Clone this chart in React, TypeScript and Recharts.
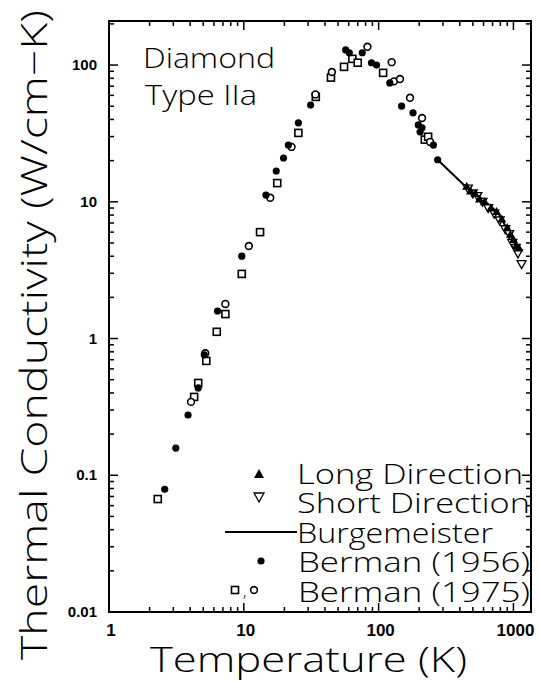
import React from "react";
import { ScatterChart, Scatter, XAxis, YAxis } from "recharts";

// ---- data (T in K, k in W/cm-K) ----
const berman1956 = [
  { T: 2.59, k: 0.079 }, { T: 3.13, k: 0.158 }, { T: 3.86, k: 0.276 }, { T: 4.59, k: 0.435 },
  { T: 5.09, k: 0.76 }, { T: 6.38, k: 1.59 }, { T: 9.66, k: 4.0 }, { T: 14.6, k: 11.2 },
  { T: 17.4, k: 16.8 }, { T: 19.7, k: 20.9 }, { T: 21.4, k: 26 }, { T: 25.4, k: 37.8 },
  { T: 31.3, k: 51 }, { T: 57, k: 129 }, { T: 60.6, k: 123 }, { T: 75.6, k: 123 },
  { T: 88.5, k: 104 }, { T: 96.6, k: 100 }, { T: 121, k: 74 }, { T: 148, k: 50 },
  { T: 180, k: 44.7 }, { T: 197, k: 36.5 }, { T: 210, k: 34.8 }, { T: 203, k: 32.4 },
  { T: 255, k: 26 }, { T: 274, k: 20.3 },
];
const berman1975Squares = [
  { T: 2.3, k: 0.067 }, { T: 4.28, k: 0.374 }, { T: 4.59, k: 0.473 }, { T: 5.27, k: 0.686 },
  { T: 6.3, k: 1.12 }, { T: 7.3, k: 1.51 }, { T: 9.66, k: 2.97 }, { T: 13.2, k: 6.0 },
  { T: 17.7, k: 13.7 }, { T: 25.4, k: 31.9 }, { T: 34.2, k: 58.5 }, { T: 44.3, k: 81 },
  { T: 55.4, k: 97 }, { T: 63.9, k: 111 }, { T: 70, k: 104 }, { T: 108, k: 87.7 },
  { T: 220, k: 28.5 }, { T: 233, k: 29.9 },
];
const berman1975Circles = [
  { T: 4.06, k: 0.344 }, { T: 5.18, k: 0.78 }, { T: 7.3, k: 1.79 }, { T: 10.9, k: 4.75 },
  { T: 15.7, k: 10.7 }, { T: 22.6, k: 25.2 }, { T: 34, k: 61 }, { T: 45, k: 89 },
  { T: 82.6, k: 136 }, { T: 125, k: 105 }, { T: 130, k: 76 }, { T: 144, k: 79 },
  { T: 171, k: 57.6 }, { T: 210, k: 41 }, { T: 241, k: 27.4 },
];
const longDirection = [
  { T: 450, k: 13 }, { T: 480, k: 12 }, { T: 520, k: 11.5 }, { T: 560, k: 10.5 },
  { T: 610, k: 10 }, { T: 680, k: 9 }, { T: 750, k: 8.5 }, { T: 820, k: 7.5 },
  { T: 900, k: 6.5 }, { T: 950, k: 5.8 }, { T: 1000, k: 5.3 }, { T: 1050, k: 4.8 },
  { T: 1100, k: 4.6 },
];
const shortDirection = [
  { T: 460, k: 12.5 }, { T: 500, k: 11.5 }, { T: 540, k: 11 }, { T: 590, k: 10 },
  { T: 650, k: 9 }, { T: 720, k: 8.2 }, { T: 790, k: 7.3 }, { T: 870, k: 6.3 },
  { T: 930, k: 5.8 }, { T: 980, k: 5.0 }, { T: 1040, k: 4.6 }, { T: 1080, k: 4.2 },
  { T: 1150, k: 3.5 },
];
const burgemeister = [
  { T: 274, k: 20.3 }, { T: 443, k: 12.9 }, { T: 600, k: 10.3 }, { T: 770, k: 8.3 },
  { T: 960, k: 5.6 }, { T: 1100, k: 4.5 },
];

const xMajor = [1, 10, 100, 1000];
const xMinor = [2, 3, 4, 5, 6, 7, 8, 9, 20, 30, 40, 50, 60, 70, 80, 90, 200, 300, 400, 500, 600, 700, 800, 900];
const yMajor = [0.01, 0.1, 1, 10, 100];
const yMinor = [
  0.02, 0.03, 0.04, 0.05, 0.06, 0.07, 0.08, 0.09,
  0.2, 0.3, 0.4, 0.5, 0.6, 0.7, 0.8, 0.9,
  2, 3, 4, 5, 6, 7, 8, 9,
  20, 30, 40, 50, 60, 70, 80, 90, 200,
];
const xLabels = ["1", "10", "100", "1000"];
const yLabels = ["0.01", "0.1", "1", "10", "100"];

const xTicks = [...xMajor, ...xMinor];
const yTicks = [...yMajor, ...yMinor];

// layout constants (plot frame)
const PLOT_TOP = 21;
const PLOT_RIGHT = 531;

const FONT = "'Open Sans', 'DejaVu Sans', sans-serif";
const TICKFONT = "'Liberation Sans', Arial, sans-serif";

const BottomTick = (p: any) => {
  const v = p.payload.value;
  const i = xMajor.indexOf(v);
  const major = i >= 0;
  const len = major ? 9 : 5;
  return (
    <g>
      <line x1={p.x} x2={p.x} y1={p.y} y2={p.y - len} stroke="#000" strokeWidth={1.5} />
      <line x1={p.x} x2={p.x} y1={PLOT_TOP} y2={PLOT_TOP + len} stroke="#000" strokeWidth={1.5} />
      {major && (
        <text x={p.x + 2} y={p.y + 24} textAnchor="middle" fontFamily={TICKFONT} fontWeight="bold" fontSize={17} fill="#000">
          {xLabels[i]}
        </text>
      )}
    </g>
  );
};
const LeftTick = (p: any) => {
  const v = p.payload.value;
  const i = yMajor.indexOf(v);
  const major = i >= 0;
  const len = major ? 9 : 5;
  return (
    <g>
      <line x1={p.x} x2={p.x + len} y1={p.y} y2={p.y} stroke="#000" strokeWidth={1.5} />
      <line x1={PLOT_RIGHT} x2={PLOT_RIGHT - len} y1={p.y} y2={p.y} stroke="#000" strokeWidth={1.5} />
      {major && (
        <text x={p.x - 12} y={p.y + 5} textAnchor="end" fontFamily={TICKFONT} fontWeight="bold" fontSize={15} fill="#000">
          {yLabels[i]}
        </text>
      )}
    </g>
  );
};

const FilledCircle = (p: any) => <circle cx={p.cx} cy={p.cy} r={3.6} fill="#000" />;
const OpenCircle = (p: any) => <circle cx={p.cx} cy={p.cy} r={3.4} fill="#fff" stroke="#000" strokeWidth={1.6} />;
const OpenSquare = (p: any) => <rect x={p.cx - 3.5} y={p.cy - 3.5} width={7} height={7} fill="#fff" stroke="#000" strokeWidth={1.6} />;
const UpTri = (p: any) => (
  <path d={`M${p.cx},${p.cy - 4.5} L${p.cx + 4.5},${p.cy + 3.5} L${p.cx - 4.5},${p.cy + 3.5} Z`} fill="#000" />
);
const DownTri = (p: any) => (
  <path d={`M${p.cx},${p.cy + 4.5} L${p.cx + 4.5},${p.cy - 3.5} L${p.cx - 4.5},${p.cy - 3.5} Z`} fill="#fff" stroke="#000" strokeWidth={1.3} />
);
const NoShape = () => <g />;

const txt = { fontFamily: FONT, fontWeight: 300, fill: "#000" } as const;

export default function App() {
  return (
    <div style={{ position: "absolute", left: 0, top: 0, background: "#fff" }}>
      <ScatterChart width={539} height={681} margin={{ top: 21, right: 8, bottom: 0, left: 0 }}>
        <XAxis
          dataKey="T"
          type="number"
          scale="log"
          domain={[1, 1350]}
          allowDataOverflow
          ticks={xTicks}
          interval={0}
          tickSize={0}
          tickMargin={0}
          tickLine={false}
          tick={BottomTick}
          height={69}
          axisLine={{ stroke: "#000", strokeWidth: 2 }}
        />
        <YAxis
          dataKey="k"
          type="number"
          scale="log"
          domain={[0.01, 210]}
          allowDataOverflow
          ticks={yTicks}
          interval={0}
          tickSize={0}
          tickMargin={0}
          tickLine={false}
          tick={LeftTick}
          width={109}
          axisLine={{ stroke: "#000", strokeWidth: 2 }}
        />
        <Scatter data={burgemeister} line={{ stroke: "#000", strokeWidth: 2 }} shape={NoShape} isAnimationActive={false} />
        <Scatter data={berman1975Squares} shape={OpenSquare} isAnimationActive={false} />
        <Scatter data={berman1975Circles} shape={OpenCircle} isAnimationActive={false} />
        <Scatter data={berman1956} shape={FilledCircle} isAnimationActive={false} />
        <Scatter data={shortDirection} shape={DownTri} isAnimationActive={false} />
        <Scatter data={longDirection} shape={UpTri} isAnimationActive={false} />

        <rect x={109} y={PLOT_TOP} width={PLOT_RIGHT - 109} height={591} fill="none" stroke="#000" strokeWidth={2} />

        <text x={143} y={68} fontSize={28} textLength={132} lengthAdjust="spacingAndGlyphs" {...txt}>Diamond</text>
        <text x={145} y={105} fontSize={28} textLength={112} lengthAdjust="spacingAndGlyphs" {...txt}>Type IIa</text>

        <path d="M259,469 L264,478 L254,478 Z" fill="#000" />
        <text x={297} y={484} fontSize={28} textLength={226} lengthAdjust="spacingAndGlyphs" {...txt}>Long Direction</text>
        <path d="M259,502 L264,493 L254,493 Z" fill="#fff" stroke="#000" strokeWidth={1.3} />
        <text x={297} y={513} fontSize={28} textLength={233} lengthAdjust="spacingAndGlyphs" {...txt}>Short Direction</text>
        <line x1={225} x2={297} y1={532} y2={532} stroke="#000" strokeWidth={2} />
        <text x={297} y={543} fontSize={28} textLength={196} lengthAdjust="spacingAndGlyphs" {...txt}>Burgemeister</text>
        <circle cx={261} cy={561} r={3.6} fill="#000" />
        <text x={298} y={572} fontSize={28} textLength={232} lengthAdjust="spacingAndGlyphs" {...txt}>Berman (1956)</text>
        <rect x={231.5} y={586.5} width={7} height={7} fill="#fff" stroke="#000" strokeWidth={1.6} />
        <text x={243} y={597} fontSize={16} {...txt}>,</text>
        <circle cx={254} cy={590} r={3.4} fill="#fff" stroke="#000" strokeWidth={1.6} />
        <text x={298} y={602} fontSize={28} textLength={232} lengthAdjust="spacingAndGlyphs" {...txt}>Berman (1975)</text>

        <text x={150} y={672} fontSize={34} textLength={317} lengthAdjust="spacingAndGlyphs" {...txt}>Temperature (K)</text>
        <text
          transform="translate(47,660) rotate(-90)"
          x={0}
          y={0}
          fontSize={36}
          textLength={650}
          lengthAdjust="spacingAndGlyphs"
          {...txt}
        >
          Thermal Conductivity (W/cm−K)
        </text>
      </ScatterChart>
    </div>
  );
}
